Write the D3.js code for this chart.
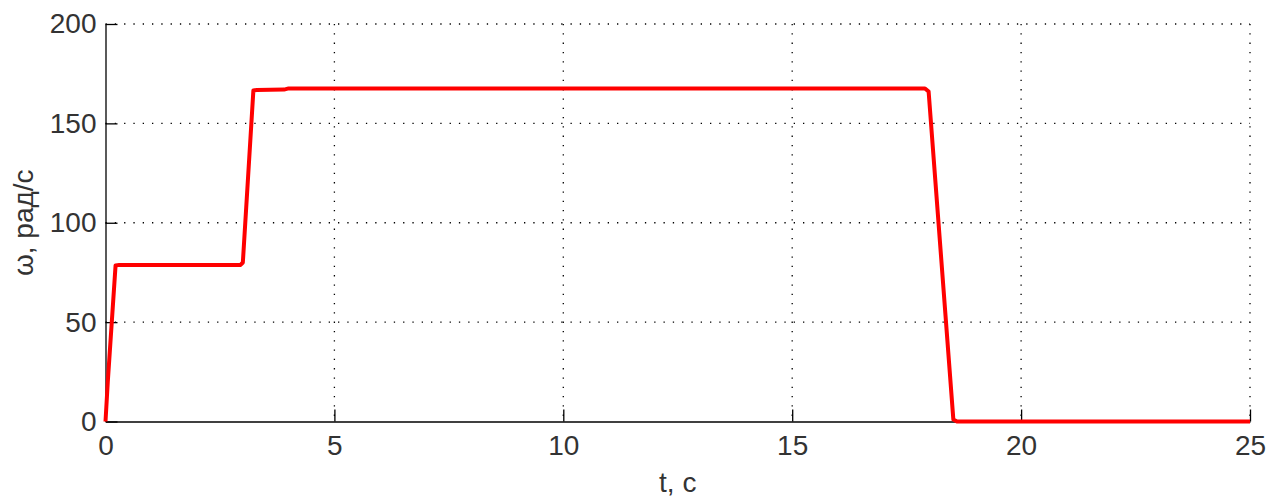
<!DOCTYPE html>
<html>
<head>
<meta charset="utf-8">
<script src="https://cdn.jsdelivr.net/npm/d3@7"></script>
<style>
    body { margin: 0; background: #fff; }
    .chart text { font-family: "Liberation Sans", Arial, sans-serif; fill: #333; }
</style>
</head>
<body>
<div class="chart"></div>
<script>
// time points (s) and angular speed (rad/s)
const tValues = [0, 0.05, 0.22, 0.3, 2.95, 3.0, 3.23, 3.3, 3.9, 4.0, 17.9, 17.98, 18.52, 18.6, 25];
const omegaValues = [0, 20, 78.5, 78.8, 78.8, 80, 166.5, 166.8, 167, 167.6, 167.6, 166, 1, 0, 0];

const xTicks = [0, 5, 10, 15, 20, 25];
const yTicks = [0, 50, 100, 150, 200];

const width = 1282, height = 502;
const margin = { top: 24, right: 32, bottom: 80.5, left: 105.5 };

const svg = d3.select(".chart")
    .append("svg")
    .attr("width", width)
    .attr("height", height);

const xScale = d3.scaleLinear()
    .domain([0, 25])
    .range([margin.left, width - margin.right]);

const yScale = d3.scaleLinear()
    .domain([0, 200])
    .range([height - margin.bottom, margin.top]);

// dotted grid
const grid = svg.append("g")
    .attr("stroke", "#000")
    .attr("stroke-width", 1.3)
    .attr("stroke-dasharray", "1.3,8");

grid.selectAll(".vgrid").data(xTicks.slice(1))
    .enter().append("line")
    .attr("x1", d => xScale(d)).attr("x2", d => xScale(d))
    .attr("y1", yScale(200)).attr("y2", yScale(0));

grid.selectAll(".hgrid").data(yTicks.slice(1))
    .enter().append("line")
    .attr("x1", xScale(0)).attr("x2", xScale(25))
    .attr("y1", d => yScale(d)).attr("y2", d => yScale(d));

// x axis, ticks pointing inward
const xAxis = svg.append("g")
    .attr("transform", "translate(0," + yScale(0) + ")")
    .call(d3.axisBottom(xScale).tickValues(xTicks).tickSizeInner(-12).tickSizeOuter(0).tickPadding(14));

// y axis
const yAxis = svg.append("g")
    .attr("transform", "translate(" + xScale(0) + ",0)")
    .call(d3.axisLeft(yScale).tickValues(yTicks).tickSizeInner(-12).tickSizeOuter(0).tickPadding(9));

[xAxis, yAxis].forEach(a => {
    a.select(".domain").attr("stroke", "#000").attr("stroke-width", 1.3);
    a.selectAll(".tick line").attr("stroke", "#000").attr("stroke-width", 1.3);
    a.selectAll("text").style("font-size", "28px");
});

// speed curve
const line = d3.line()
    .x((d, i) => xScale(tValues[i]))
    .y(d => yScale(d));

svg.append("path")
    .datum(omegaValues)
    .attr("fill", "none")
    .attr("stroke", "#ff0000")
    .attr("stroke-width", 4)
    .attr("stroke-linejoin", "round")
    .attr("d", line);

// axis titles
svg.append("text")
    .attr("x", xScale(12.5))
    .attr("y", 492)
    .attr("text-anchor", "middle")
    .style("font-size", "28px")
    .text("t, c");

svg.append("text")
    .attr("transform", "translate(33," + yScale(100) + ") rotate(-90)")
    .attr("text-anchor", "middle")
    .style("font-size", "28px")
    .text("ω, рад/с");
</script>
</body>
</html>
